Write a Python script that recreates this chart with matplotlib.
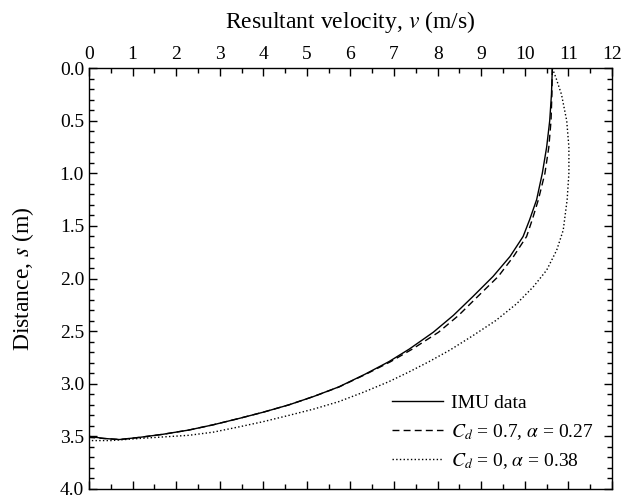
import matplotlib.pyplot as plt
from matplotlib.ticker import MultipleLocator

plt.rcParams['font.family'] = ['Liberation Serif', 'DejaVu Serif']
plt.rcParams['mathtext.fontset'] = 'stix'
plt.rcParams['font.size'] = 14

# distance s (m) and resultant velocity v (m/s)
s_imu = [0.0, 0.25, 0.5, 0.75, 1.0, 1.25, 1.44, 1.6, 1.79, 1.98, 2.17, 2.35, 2.51,
         2.67, 2.79, 2.91, 3.03, 3.12, 3.20, 3.27, 3.33, 3.39, 3.44, 3.48, 3.51, 3.53, 3.52, 3.50]
v_imu = [10.63, 10.61, 10.57, 10.50, 10.40, 10.27, 10.11, 9.96, 9.66, 9.27, 8.81, 8.36, 7.90,
         7.35, 6.88, 6.33, 5.73, 5.16, 4.59, 4.00, 3.44, 2.85, 2.29, 1.70, 1.15, 0.70, 0.35, 0.0]

s_cd07 = [0.0, 0.25, 0.5, 0.75, 1.0, 1.25, 1.44, 1.6, 1.79, 1.98, 2.17, 2.35, 2.51,
          2.67, 2.79, 2.91, 3.03, 3.12, 3.20, 3.27, 3.33, 3.39, 3.44, 3.48, 3.51, 3.53, 3.52, 3.51]
v_cd07 = [10.63, 10.62, 10.60, 10.55, 10.46, 10.31, 10.17, 10.04, 9.74, 9.39, 8.92, 8.48, 8.02,
          7.42, 6.92, 6.35, 5.74, 5.16, 4.59, 4.00, 3.44, 2.85, 2.29, 1.70, 1.15, 0.70, 0.35, 0.0]

s_cd0 = [0.0, 0.1, 0.25, 0.5, 0.75, 1.0, 1.25, 1.54, 1.73, 1.92, 2.08, 2.24, 2.40,
         2.55, 2.68, 2.79, 2.89, 2.98, 3.08, 3.17, 3.24, 3.30, 3.36, 3.41, 3.46, 3.49, 3.52, 3.54, 3.54]
v_cd0 = [10.63, 10.72, 10.84, 10.96, 11.01, 11.01, 10.97, 10.88, 10.73, 10.50, 10.19, 9.81, 9.33,
         8.78, 8.28, 7.80, 7.33, 6.88, 6.30, 5.73, 5.16, 4.59, 4.00, 3.44, 2.85, 2.29, 1.15, 0.50, 0.0]

labels = ['IMU data',
          r'$C_d$ = 0.7, $\alpha$ = 0.27',
          r'$C_d$ = 0, $\alpha$ = 0.38']

fig = plt.figure(figsize=(6.22, 5.01), dpi=100)
ax = fig.add_axes([0.143, 0.024, 0.841, 0.840])

ax.plot(v_imu, s_imu, 'k-', lw=1.0, label=labels[0])
ax.plot(v_cd07, s_cd07, 'k--', lw=1.0, dashes=(5, 3), label=labels[1])
ax.plot(v_cd0, s_cd0, 'k:', lw=1.0, label=labels[2])

ax.set_xlim(0, 12)
ax.set_ylim(4.0, 0.0)
ax.xaxis.set_label_position('top')
ax.xaxis.tick_top()
ax.set_xlabel(r'Resultant velocity, $v$ (m/s)', fontsize=17, labelpad=13)
ax.set_ylabel(r'Distance, $s$ (m)', fontsize=17, labelpad=17)

ax.xaxis.set_major_locator(MultipleLocator(1))
ax.xaxis.set_minor_locator(MultipleLocator(0.5))
ax.yaxis.set_major_locator(MultipleLocator(0.5))
ax.yaxis.set_minor_locator(MultipleLocator(0.1))
ax.yaxis.set_major_formatter(plt.FormatStrFormatter('%.1f'))
ax.tick_params(which='both', direction='in', top=True, bottom=True, left=True, right=True,
               labeltop=True, labelbottom=False, width=1.0)
ax.tick_params(which='major', length=6)
ax.tick_params(which='minor', length=3.3)
for sp in ax.spines.values():
    sp.set_linewidth(1.0)

ax.legend(loc='lower right', bbox_to_anchor=(0.99, 0.01), frameon=False,
          handlelength=2.6, handletextpad=0.4, labelspacing=0.5, borderpad=0.2)

fig.savefig('out.png', dpi=100)
